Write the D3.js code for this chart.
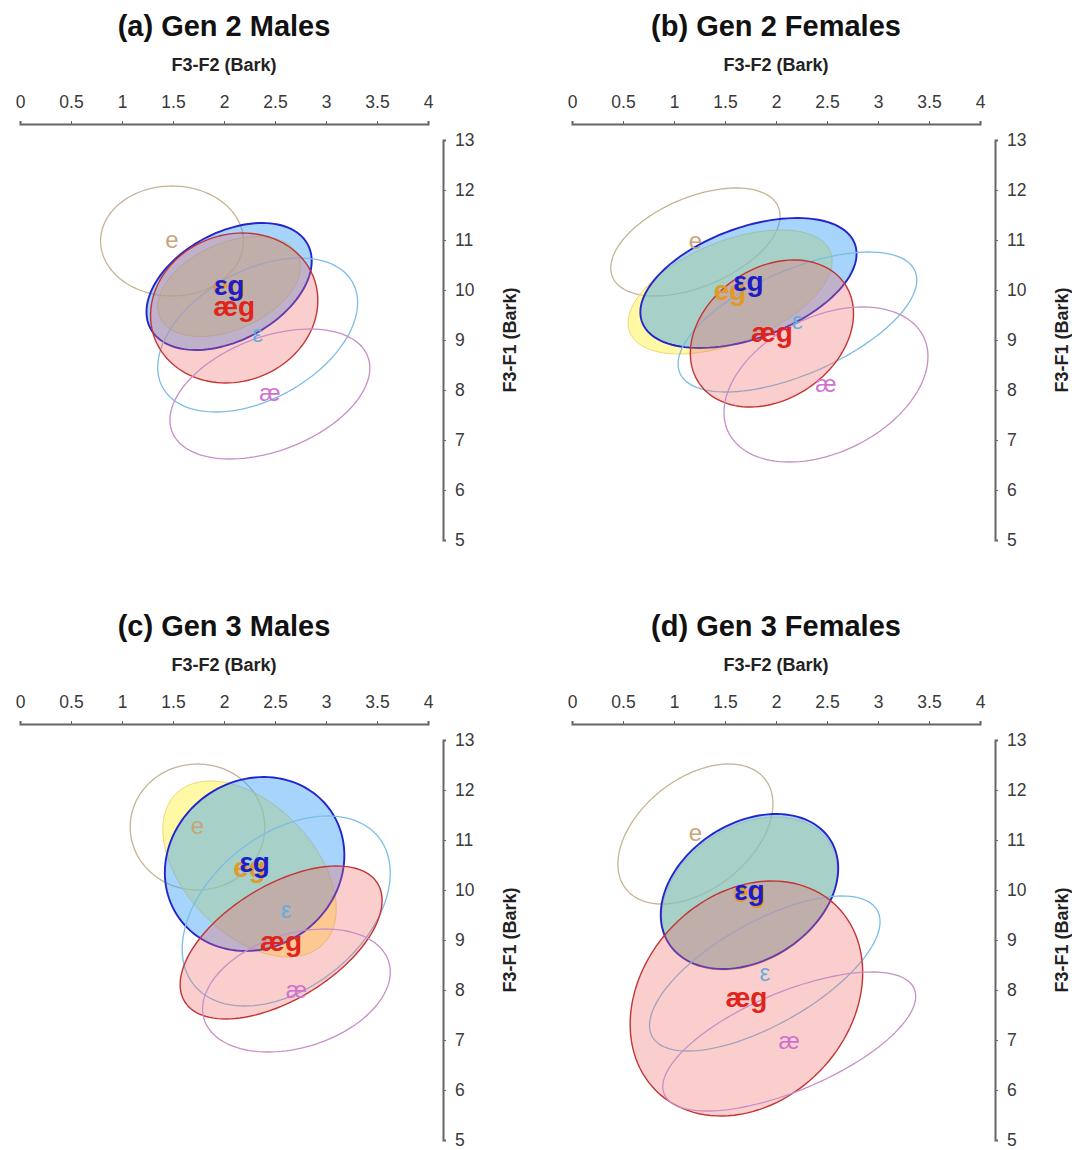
<!DOCTYPE html>
<html>
<head>
<meta charset="utf-8">
<script src="https://cdn.jsdelivr.net/npm/d3@7"></script>
<style>
  body { margin: 0; background: #fff; }
  svg { display: block; font-family: "Liberation Sans", Arial, sans-serif; }
</style>
</head>
<body>
<div id="chart"></div>
<script>
'use strict';

// panel titles and axis ticks
var panelTitles = ['(a) Gen 2 Males', '(b) Gen 2 Females', '(c) Gen 3 Males', '(d) Gen 3 Females'];
var xTicks = [0, 0.5, 1, 1.5, 2, 2.5, 3, 3.5, 4];
var yTicks = [5, 6, 7, 8, 9, 10, 11, 12, 13];
var vowels = ['e', 'eg', 'εg', 'ε', 'æg', 'æ'];

// rows follow `vowels`: [mean F3-F2, mean F3-F1, sd F3-F2, sd F3-F1, r]
var gen2Males = [
  [1.49, 10.98, 0.70, 1.10, 0.00],
  [2.05, 10.07, 0.70, 1.00, 0.40],
  [2.05, 10.07, 0.81, 1.27, 0.40],
  [2.33, 9.10, 0.98, 1.54, 0.42],
  [2.10, 9.64, 0.82, 1.50, 0.10],
  [2.45, 7.92, 0.98, 1.30, 0.40]
];
var gen2Females = [
  [1.21, 10.96, 0.83, 1.08, 0.48],
  [1.55, 9.96, 1.00, 1.24, 0.50],
  [1.73, 10.14, 1.06, 1.30, 0.45],
  [2.21, 9.36, 1.17, 1.40, 0.60],
  [1.96, 9.13, 0.80, 1.47, 0.27],
  [2.49, 8.11, 1.00, 1.55, 0.36]
];
var gen3Males = [
  [1.74, 11.26, 0.66, 1.26, 0.00],
  [2.25, 10.42, 0.85, 1.76, -0.45],
  [2.30, 10.52, 0.88, 1.74, 0.10],
  [2.61, 9.58, 1.02, 1.90, 0.40],
  [2.56, 8.95, 0.99, 1.53, 0.55],
  [2.71, 7.99, 0.92, 1.23, 0.30]
];
var gen3Females = [
  [1.21, 11.12, 0.76, 1.40, 0.43],
  [1.74, 9.93, 0.86, 1.53, 0.30],
  [1.74, 9.97, 0.87, 1.55, 0.30],
  [1.89, 8.33, 1.13, 1.55, 0.67],
  [1.71, 7.83, 1.14, 2.35, 0.22],
  [2.13, 6.97, 1.24, 1.39, 0.65]
];
var panelData = [gen2Males, gen2Females, gen3Males, gen3Females];

// look of each vowel
var styles = {
  'e':  {stroke: '#c8b394', fill: 'none', op: 0, sw: 1.3, text: '#c8a47a', size: 24, weight: 'normal'},
  'eg': {stroke: '#f0d878', fill: '#fff35a', op: 0.55, sw: 1, text: '#e09a28', size: 28, weight: 'bold'},
  'εg': {stroke: '#2424cc', fill: '#3aa0f5', op: 0.45, sw: 1.9, text: '#1c1cc8', size: 28, weight: 'bold'},
  'ε':  {stroke: '#7cbde6', fill: 'none', op: 0, sw: 1.3, text: '#62aee0', size: 24, weight: 'normal'},
  'æg': {stroke: '#c43434', fill: '#f26a6a', op: 0.33, sw: 1.4, text: '#e0241c', size: 28, weight: 'bold'},
  'æ':  {stroke: '#c690c6', fill: 'none', op: 0, sw: 1.3, text: '#d070d0', size: 24, weight: 'normal'}
};
var labelOrder = ['e', 'eg', 'ε', 'æ', 'εg', 'æg'];

var width = 1072, height = 1150;
var offsets = [[0, 0], [552, 0], [0, 600], [552, 600]];

var svg = d3.select('#chart').append('svg')
    .attr('width', width)
    .attr('height', height);

var x = d3.scaleLinear().domain([0, 4]).range([20, 428]);
var y = d3.scaleLinear().domain([5, 13]).range([540, 140]);

// ellipse outline from means, sds and correlation
function ellipsePoints(row) {
  var pts = [];
  var s = Math.sqrt(1 - row[4] * row[4]);
  for (var i = 0; i < 120; i++) {
    var t = i / 120 * 2 * Math.PI;
    pts.push([row[0] + row[2] * Math.cos(t),
              row[1] + row[3] * (row[4] * Math.cos(t) + s * Math.sin(t))]);
  }
  return pts;
}

var line = d3.line()
    .x(function (d) { return x(d[0]); })
    .y(function (d) { return y(d[1]); })
    .curve(d3.curveLinearClosed);

panelData.forEach(function (data, p) {
  var g = svg.append('g')
      .attr('transform', 'translate(' + offsets[p][0] + ',' + offsets[p][1] + ')');
  var mid = (x(0) + x(4)) / 2;

  g.append('text')
      .attr('x', mid).attr('y', 36)
      .attr('text-anchor', 'middle')
      .style('font-size', '29px').style('font-weight', 'bold').style('fill', '#111')
      .text(panelTitles[p]);

  g.append('text')
      .attr('x', mid).attr('y', 71)
      .attr('text-anchor', 'middle')
      .style('font-size', '18px').style('font-weight', 'bold').style('fill', '#222')
      .text('F3-F2 (Bark)');

  var xAxis = g.append('g')
      .attr('transform', 'translate(0,124)')
      .call(d3.axisTop(x).tickValues(xTicks).tickSize(3).tickPadding(13)
        .tickFormat(d3.format('~g')));

  var yAxis = g.append('g')
      .attr('transform', 'translate(443,0)')
      .call(d3.axisRight(y).tickValues(yTicks).tickSize(3).tickPadding(9));

  [xAxis, yAxis].forEach(function (ax) {
    ax.select('.domain').attr('stroke', '#666').attr('stroke-width', 2);
    ax.selectAll('.tick line').attr('stroke', '#666');
    ax.selectAll('.tick text')
        .style('font-size', '17.5px').style('fill', '#3a3a3a')
        .style('font-family', '"Liberation Sans", Arial, sans-serif');
  });

  g.append('text')
      .attr('transform', 'translate(516,' + ((y(5) + y(13)) / 2) + ') rotate(-90)')
      .attr('text-anchor', 'middle')
      .style('font-size', '18px').style('font-weight', 'bold').style('fill', '#222')
      .text('F3-F1 (Bark)');

  // ellipses, in drawing order
  vowels.forEach(function (v, i) {
    var st = styles[v];
    g.append('path')
        .attr('d', line(ellipsePoints(data[i])))
        .attr('fill', st.fill)
        .attr('fill-opacity', st.op)
        .attr('stroke', st.stroke)
        .attr('stroke-width', st.sw);
  });

  // labels at the means
  labelOrder.forEach(function (v) {
    var row = data[vowels.indexOf(v)];
    var st = styles[v];
    g.append('text')
        .attr('x', x(row[0]))
        .attr('y', y(row[1]))
        .attr('dy', '0.3em')
        .attr('text-anchor', 'middle')
        .style('font-size', st.size + 'px')
        .style('font-weight', st.weight)
        .style('fill', st.text)
        .text(v);
  });
});
</script>
</body>
</html>
